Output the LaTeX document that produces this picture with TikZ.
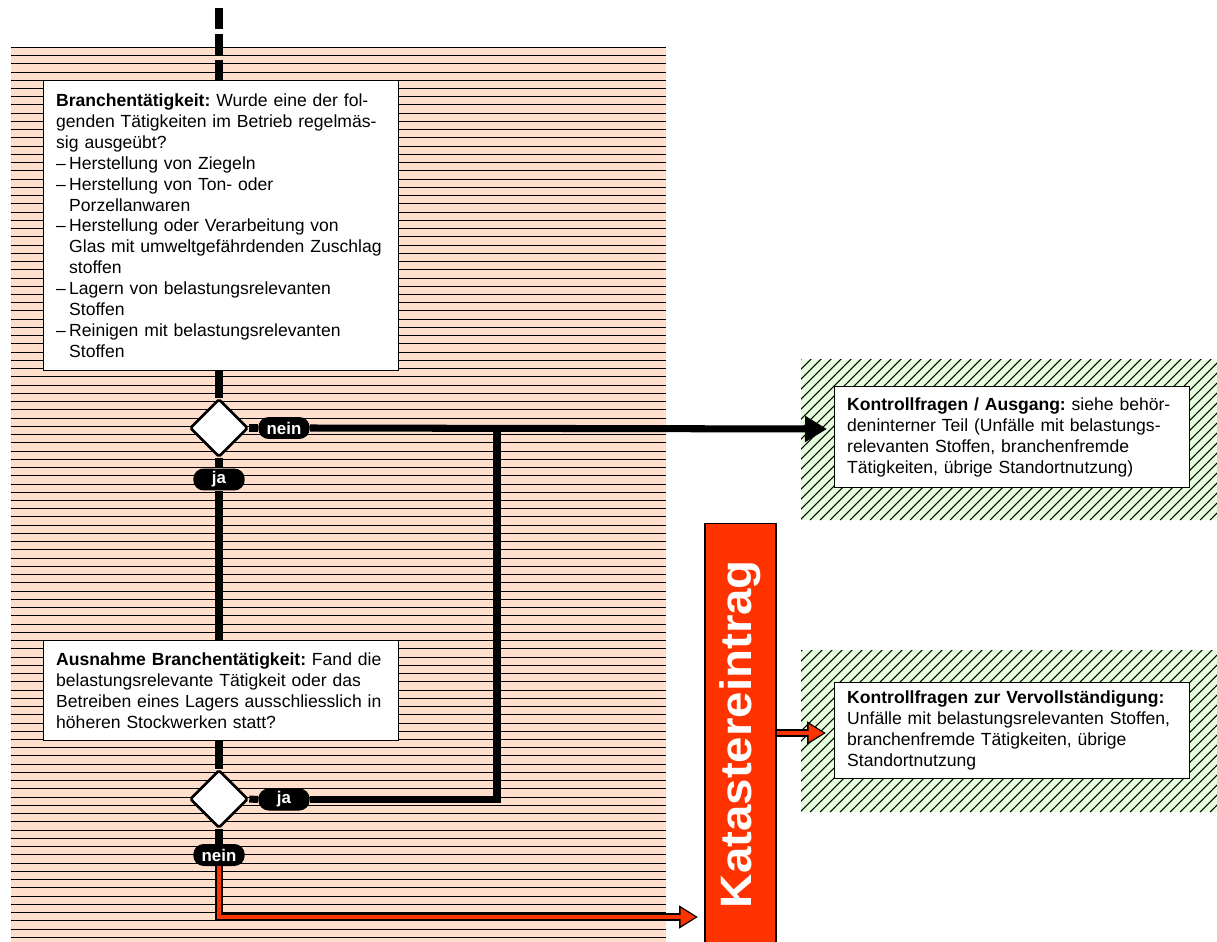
\documentclass[tikz,border=0pt]{standalone}
\usepackage{fontspec}
\setmainfont{Liberation Sans}
\usetikzlibrary{arrows.meta,shapes.geometric,positioning,calc}
\definecolor{peach}{RGB}{255,222,204}
\definecolor{mint}{RGB}{230,255,220}
\definecolor{signal}{RGB}{255,51,0}
\newcommand\boxfont{\fontsize{10pt}{11.9pt}\selectfont\frenchspacing}
\newcommand\itm{\makebox[7.4pt][l]{–}}
\newcommand\cnt{\hspace*{7.4pt}}
\tikzset{
  every picture/.style={x=0.02cm, y=-0.02cm, line join=miter},
  % Verbindungen
  flow/.style={line width=4pt},
  flowarr/.style={flow, -{Triangle[length=0.44cm,width=0.5cm]}},
  rededge/.style={line width=4pt, -{Triangle[length=0.38cm,width=0.44cm]}},
  redcore/.style={signal, line width=2.5pt, shorten >=1.4pt, -{Triangle[length=0.3cm,width=0.34cm]}},
  % Kästen
  box/.style={draw, fill=white, line width=0.8pt, anchor=north west, align=left,
    font=\boxfont, inner xsep=0.25cm, inner ysep=0pt, text width=6.6cm},
  dec/.style={diamond, draw, fill=white, line width=1.5pt, rounded corners=1pt,
    inner sep=0pt, minimum width=1.16cm, minimum height=1.16cm},
  pill/.style={fill=black, text=white, font=\fontsize{9.6pt}{10pt}\selectfont\bfseries,
    rounded corners=0.21cm, minimum width=1.03cm, minimum height=0.44cm, inner sep=0pt},
  kat/.style={draw, fill=signal, line width=0.6pt, text=white, inner sep=0pt,
    font=\fontsize{25pt}{28pt}\selectfont\bfseries},
  % Schraffur
  hatchline/.style={black, line width=0.6pt},
  rowline/.style={line width=0.55pt},
}
\begin{document}
\begin{tikzpicture}
  \useasboundingbox (0,0) rectangle (1217,942);
  % Hintergrund Branchenteil
  \fill[peach] (11,47) rectangle (666,942);
  \foreach \i in {0,...,108} \draw[rowline] (11,47.3+\i*8.24) -- (666,47.3+\i*8.24);
  % Ausgänge rechts
  \begin{scope}
    \clip (801,360) rectangle (1217,520);
    \fill[mint] (801,360) rectangle (1217,520);
    \foreach \d in {630,640,...,1220} \draw[hatchline] (\d,520) -- ++(170,-170);
  \end{scope}
  \begin{scope}
    \clip (801,650) rectangle (1217,812);
    \fill[mint] (801,650) rectangle (1217,812);
    \foreach \d in {630,640,...,1220} \draw[hatchline] (\d,812) -- ++(170,-170);
  \end{scope}

  % Fragen
  \node[box, minimum height=5.8cm] (branche) at (43,80) {%
    \textbf{Branchentätigkeit:} Wurde eine der fol-\\
    genden Tätigkeiten im Betrieb regelmäs-\\
    sig ausgeübt?\\
    \itm Herstellung von Ziegeln\\
    \itm Herstellung von Ton- oder\\
    \cnt Porzellanwaren\\
    \itm Herstellung oder Verarbeitung von\\
    \cnt Glas mit umweltgefährdenden Zuschlag\\
    \cnt stoffen\\
    \itm Lagern von belastungsrelevanten\\
    \cnt Stoffen\\
    \itm Reinigen mit belastungsrelevanten\\
    \cnt Stoffen};
  \node[box, minimum height=2cm] (ausnahme) at (43,640) {%
    \textbf{Ausnahme Branchentätigkeit:} Fand die\\
    belastungsrelevante Tätigkeit oder das\\
    Betreiben eines Lagers ausschliesslich in\\
    höheren Stockwerken statt?};
  \node[box, minimum height=2.02cm] (kf1) at (834,386) {%
    \textbf{Kontrollfragen / Ausgang:} siehe behör-\\
    deninterner Teil (Unfälle mit belastungs-\\
    relevanten Stoffen, branchenfremde\\
    Tätigkeiten, übrige Standortnutzung)};
  \node[box, minimum height=1.92cm] (kf2) at (834,682) {%
    \textbf{Kontrollfragen zur Vervollständigung:}\\
    Unfälle mit belastungsrelevanten Stoffen,\\
    branchenfremde Tätigkeiten, übrige\\
    Standortnutzung};
  \node[kat, rotate=90, minimum width=8.44cm, minimum height=1.42cm] (kataster)
    at (740.5,734) {\scalebox{1.08}[1]{Katastereintrag}};

  % Entscheidungen
  \node[dec] (d1) at (219,428) {};
  \node[dec] (d2) at (219,799) {};
  \node[pill] (nein1) at (284,428) {nein};
  \node[pill] (ja1) at (219,479.5) {ja};
  \node[pill] (ja2) at (284,799.5) {ja};
  \node[pill] (nein2) at (219,855) {nein};

  \coordinate (start) at (219,8);
  \coordinate (junction) at (497,428);
  \coordinate (kf1in) at (827,429);
  \coordinate (katin) at (698,917);
  \coordinate (kf2in) at (826,733);

  % Verbindungen
  \draw[flow, dash pattern=on 11.9pt off 2.8pt] (start) -- (start |- branche.north);
  \draw[flow] (d1 |- branche.south) -- (d1.north);
  \draw[flow] (d1.east) -- (nein1.west);
  \draw[flowarr] (nein1.east) -- (kf1in);
  \draw[flow] (d1.south) -- (ja1.north);
  \draw[flow] (ja1.south) -- (ja1 |- ausnahme.north);
  \draw[flow] (d2 |- ausnahme.south) -- (d2.north);
  \draw[flow] (d2.east) -- (ja2.west);
  \draw[flow] (ja2.east) -| (junction);
  \draw[flow] (d2.south) -- (nein2.north);
  \draw[rededge] (nein2.south) |- (katin);
  \draw[redcore] (nein2.south) |- (katin);
  \draw[rededge] (kataster.south |- kf2in) -- (kf2in);
  \draw[redcore] (kataster.south |- kf2in) -- (kf2in);
\end{tikzpicture}
\end{document}
